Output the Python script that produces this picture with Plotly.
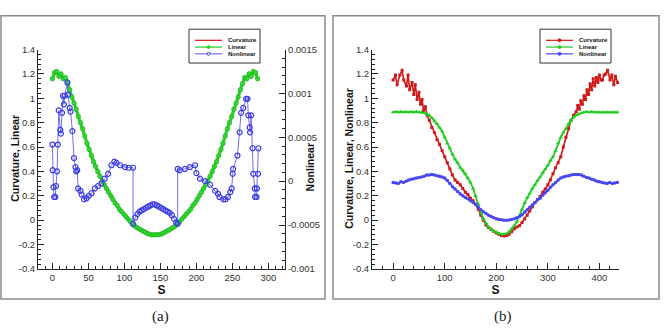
import plotly.graph_objects as go

# ---------------- data : panel (a) ----------------
s_a = list(range(0, 286, 3))
linear_a = [1.16, 1.21, 1.22, 1.18, 1.20, 1.16, 1.17, 1.12, 1.07, 1.01, 0.96, 0.91,
            0.85, 0.80, 0.75, 0.69, 0.63, 0.58, 0.53, 0.48, 0.44, 0.40, 0.36, 0.32,
            0.29, 0.26, 0.23, 0.20, 0.17, 0.14, 0.12, 0.09, 0.07, 0.05, 0.03, 0.01,
            -0.01, -0.03, -0.045, -0.06, -0.07, -0.08, -0.09, -0.10, -0.11, -0.115, -0.12, -0.12,
            -0.12, -0.12, -0.115, -0.11, -0.10, -0.09, -0.08, -0.07, -0.06, -0.045, -0.03, -0.01,
            0.01, 0.03, 0.05, 0.07, 0.09, 0.12, 0.14, 0.17, 0.20, 0.23, 0.26, 0.29,
            0.32, 0.36, 0.40, 0.44, 0.48, 0.53, 0.58, 0.63, 0.69, 0.75, 0.80, 0.85,
            0.91, 0.96, 1.01, 1.07, 1.12, 1.17, 1.16, 1.20, 1.18, 1.22, 1.21, 1.16]
# curvature in (a) coincides with the linear curve (hidden beneath it)
curv_a = linear_a[:]

s_nl_a = [0, 0.5, 1.5, 2.5, 4, 5, 6.5, 7.5, 8.8, 11, 11.8, 13.4, 14.8, 16, 17, 20.8, 21.7,
          24, 25.2, 27.8, 30, 32, 33, 34.5, 35.7, 39, 40.5, 44, 47.4, 50.6, 54.3, 58.9,
          63.5, 68, 72.7, 77.4, 82, 86, 89, 94, 100.8, 106, 112, 112,
          115, 118, 121, 124, 127, 130, 133, 136, 139, 142, 145, 148, 151, 154, 157, 160,
          163, 166, 169, 172, 174, 174,
          177, 184, 191, 198, 200, 205, 212, 219, 226, 230, 232, 237.4, 240.5, 243.8, 247,
          249, 250.4, 251, 257, 260, 262, 265, 269, 271, 272, 274, 274.5, 276, 278, 279,
          281, 281.5, 283.5, 284, 285.5, 286]
nonlinear_a = [0.000417, 0.000125, -0.000069, -0.000180, -0.000180, -0.000055, 0.000112,
               0.000417, 0.000806, 0.000584, 0.000542, 0.000778, 0.000973, 0.000875,
               0.000973, 0.001125, 0.000987, 0.000834, 0.000792, 0.000570, 0.000264,
               0.000160, 0.000112, 0.000125, -0.000083, -0.000111, -0.000152, -0.000208,
               -0.000194, -0.000166, -0.000138, -0.000083, -0.000055, -0.000027, 0.000028,
               0.000084, 0.000181, 0.000223, 0.000209, 0.000181, 0.000160, 0.000153,
               0.000153, -0.000486,
               -0.000416, -0.000375, -0.000347, -0.000333, -0.000319, -0.000305, -0.000291,
               -0.000277, -0.000263, -0.000263, -0.000277, -0.000291, -0.000305, -0.000319,
               -0.000333, -0.000347, -0.000361, -0.000388, -0.000430, -0.000472, -0.000486,
               0.000139,
               0.000125, 0.000139, 0.000160, 0.000181, 0.000091, 0.000028, 0.000000,
               -0.000041, -0.000111, -0.000145, -0.000180, -0.000208, -0.000208, -0.000180,
               -0.000125, -0.000083, 0.000084, 0.000139, 0.000292, 0.000556, 0.000778,
               0.000834, 0.000938, 0.000938, 0.000750, 0.000612, 0.000556, 0.000750,
               0.000375, 0.000084, -0.000083, -0.000180, -0.000180, -0.000083, 0.000084,
               0.000375]

# ---------------- data : panel (b) ----------------
s_curv_b = ([0, 4.5, 7.7, 13, 17.4, 20.6, 25.8, 29, 32, 36.8, 40, 43, 46.5, 50, 53, 56,
             59, 62.6, 66]
            + list(range(70, 351, 5))
            + [355, 358, 361, 364, 367, 370, 373, 376, 379, 382, 385, 388, 391, 394, 397,
               400, 403, 406, 409, 412, 416, 420.6, 424, 428, 431, 435.5])
curv_b = ([1.15, 1.19, 1.11, 1.19, 1.23, 1.15, 1.10, 1.19, 1.07, 1.13, 1.03, 1.11, 0.99,
           1.05, 0.95, 0.99, 0.90, 0.93, 0.86]
          + [0.82, 0.76, 0.72, 0.66, 0.62, 0.57, 0.52, 0.47, 0.42, 0.37, 0.33, 0.31,
             0.29, 0.26, 0.23, 0.21, 0.18, 0.16, 0.13, 0.09, 0.04, 0.00, -0.04, -0.06,
             -0.075, -0.09, -0.105, -0.115, -0.125, -0.13, -0.125, -0.115, -0.095, -0.07,
             -0.055, -0.045, -0.02, 0.01, 0.04, 0.075, 0.11, 0.145, 0.17, 0.195, 0.23,
             0.255, 0.29, 0.33, 0.38, 0.43, 0.47, 0.52, 0.60, 0.68, 0.75, 0.82, 0.86]
          + [0.89, 0.94, 0.91, 0.98, 0.95, 1.02, 0.99, 1.07, 1.03, 1.12, 1.07, 1.16, 1.10,
             1.17, 1.13, 1.19, 1.15, 1.15, 1.19, 1.20, 1.23, 1.15, 1.19, 1.11, 1.18, 1.13])
s_b = list(range(0, 436, 5))
linear_b = [0.885, 0.89, 0.885, 0.89, 0.885, 0.89, 0.885, 0.89, 0.885, 0.89, 0.885, 0.885,
            0.88, 0.87, 0.86, 0.84, 0.815, 0.79, 0.76, 0.73, 0.68, 0.63, 0.59, 0.54,
            0.50, 0.47, 0.43, 0.41, 0.38, 0.345, 0.31, 0.26, 0.20, 0.13, 0.06, 0.01,
            -0.025, -0.055, -0.075, -0.09, -0.10, -0.11, -0.115, -0.115, -0.11, -0.095,
            -0.07, -0.045, -0.01, 0.035, 0.09, 0.14, 0.185, 0.22, 0.26, 0.29, 0.325,
            0.355, 0.39, 0.42, 0.45, 0.49, 0.52, 0.57, 0.63, 0.68, 0.72, 0.75, 0.79,
            0.82, 0.845, 0.86, 0.87, 0.88, 0.885, 0.89, 0.885, 0.89, 0.885, 0.885, 0.885,
            0.885, 0.885, 0.885, 0.885, 0.885, 0.885, 0.885]
nonlinear_b = [0.31, 0.305, 0.30, 0.315, 0.31, 0.32, 0.33, 0.335, 0.34, 0.345, 0.35, 0.355,
               0.36, 0.37, 0.37, 0.375, 0.37, 0.365, 0.36, 0.355, 0.345, 0.325, 0.30, 0.275,
               0.255, 0.235, 0.215, 0.20, 0.185, 0.175, 0.16, 0.145, 0.13, 0.105, 0.085, 0.07,
               0.055, 0.04, 0.03, 0.02, 0.012, 0.006, 0.003, 0.0, 0.0, 0.002, 0.005, 0.012,
               0.02, 0.03, 0.045, 0.065, 0.085, 0.105, 0.125, 0.145, 0.165, 0.18, 0.205,
               0.225, 0.245, 0.27, 0.29, 0.31, 0.33, 0.345, 0.355, 0.36, 0.365, 0.37, 0.375,
               0.375, 0.375, 0.37, 0.36, 0.35, 0.345, 0.335, 0.33, 0.32, 0.315, 0.31, 0.305,
               0.30, 0.31, 0.30, 0.305, 0.31]

# ticks
y_ticks = [-0.4, -0.2, 0, 0.2, 0.4, 0.6, 0.8, 1.0, 1.2, 1.4]
y_labels = ["-0.4", "-0.2", "0", "0.2", "0.4", "0.6", "0.8", "1", "1.2", "1.4"]
y2_ticks = [-0.001, -0.0005, 0, 0.0005, 0.001, 0.0015]
y2_labels = ["-0.001", "-0.0005", "0", "0.0005", "0.001", "0.0015"]
xa_ticks = [0, 50, 100, 150, 200, 250, 300]
xb_ticks = [0, 100, 200, 300, 400]
series_names = ["Curvature", "Linear", "Nonlinear"]

# ---------------- styling ----------------
W, H = 672, 330
RED, GREEN, BLUE = "#d01818", "#22cc22", "#4848ee"
FONT = "Liberation Sans, Arial, sans-serif"
AX = "#222222"


def px(x):
    return x / W


def py(y):
    return 1 - y / H


def frange(a, b, step):
    n = int(round((b - a) / step))
    return [round(a + i * step, 10) for i in range(n + 1)]


fig = go.Figure()

# panel (a)
fig.add_trace(go.Scatter(x=s_a, y=curv_a, mode="lines", name="Curvature",
                         line=dict(color=RED, width=1.5), xaxis="x", yaxis="y"))
fig.add_trace(go.Scatter(x=s_a, y=linear_a, mode="lines+markers", name="Linear",
                         line=dict(color="#2ad42a", width=3.2),
                         marker=dict(symbol="circle", size=4.5, color="#30d830",
                                     line=dict(color="#1aa81a", width=0.6)),
                         xaxis="x", yaxis="y"))
fig.add_trace(go.Scatter(x=s_nl_a, y=nonlinear_a, mode="lines+markers", name="Nonlinear",
                         line=dict(color="#7070f0", width=1),
                         marker=dict(symbol="circle-open", size=5, color="#3c3ce6",
                                     line=dict(width=1.2)),
                         xaxis="x", yaxis="y2"))

# panel (b)
fig.add_trace(go.Scatter(x=s_curv_b, y=curv_b, mode="lines+markers", name="Curvature",
                         line=dict(color=RED, width=1.6),
                         marker=dict(symbol="square", size=3, color=RED),
                         xaxis="x2", yaxis="y3"))
fig.add_trace(go.Scatter(x=s_b, y=linear_b, mode="lines+markers", name="Linear",
                         line=dict(color=GREEN, width=1.8),
                         marker=dict(symbol="triangle-up", size=4, color=GREEN),
                         xaxis="x2", yaxis="y3"))
fig.add_trace(go.Scatter(x=s_b, y=nonlinear_b, mode="lines+markers", name="Nonlinear",
                         line=dict(color=BLUE, width=1.8),
                         marker=dict(symbol="circle", size=3.5, color=BLUE),
                         xaxis="x2", yaxis="y3"))

y_dom = [py(272), py(45)]
common = dict(showline=True, linecolor=AX, linewidth=1, ticks="inside", ticklen=6,
              tickcolor=AX, showgrid=False, zeroline=False,
              tickfont=dict(family=FONT, size=9.5, color="#333"))
title_font = dict(family=FONT, size=12, color="#111", weight="bold")
ytitle_font = dict(family=FONT, size=10.5, color="#111", weight="bold")

fig.update_layout(
    width=W, height=H, margin=dict(l=0, r=0, t=0, b=0),
    paper_bgcolor="white", plot_bgcolor="white", showlegend=False,
    xaxis=dict(domain=[px(38), px(285)], anchor="y", range=[-20, 323],
               tickmode="array", tickvals=xa_ticks, ticktext=[str(v) for v in xa_ticks],
               minor=dict(tickmode="array", tickvals=frange(-20, 320, 10), ticks="inside",
                          ticklen=3, tickcolor=AX),
               title=dict(text="S", font=title_font, standoff=0), **common),
    yaxis=dict(domain=y_dom, anchor="x", range=[-0.4, 1.4],
               tickmode="array", tickvals=y_ticks, ticktext=y_labels,
               minor=dict(tickmode="array", tickvals=frange(-0.4, 1.4, 0.04), ticks="inside",
                          ticklen=3, tickcolor=AX), **common),
    yaxis2=dict(domain=y_dom, anchor="x", overlaying="y", side="right",
                range=[-0.001, 0.0015],
                tickmode="array", tickvals=y2_ticks, ticktext=y2_labels,
                minor=dict(tickmode="array", tickvals=frange(-0.001, 0.0015, 0.0001),
                           ticks="inside", ticklen=3, tickcolor=AX), **common),
    xaxis2=dict(domain=[px(372), px(619)], anchor="y3", range=[-41, 438],
                tickmode="array", tickvals=xb_ticks, ticktext=[str(v) for v in xb_ticks],
                minor=dict(tickmode="array", tickvals=frange(-40, 420, 20), ticks="inside",
                           ticklen=3, tickcolor=AX),
                title=dict(text="S", font=title_font, standoff=0), **common),
    yaxis3=dict(domain=y_dom, anchor="x2", range=[-0.4, 1.4],
                tickmode="array", tickvals=y_ticks, ticktext=y_labels,
                minor=dict(tickmode="array", tickvals=frange(-0.4, 1.4, 0.04), ticks="inside",
                           ticklen=3, tickcolor=AX), **common),
)

shapes = []
annotations = []

# y-axis titles (placed beside the tick labels as in the original)
for text, tx, ty in [("Curvature, Linear", 15, 158), ("Nonlinear", 310, 167),
                     ("Curvature, Linear, Nonlinear", 349, 158)]:
    annotations.append(dict(text=text, xref="paper", yref="paper", x=px(tx), y=py(ty),
                            xanchor="center", yanchor="middle", textangle=-90,
                            showarrow=False, font=ytitle_font))

# panel frames
for x0, x1 in [(1, 325), (333, 659)]:
    shapes.append(dict(type="rect", xref="paper", yref="paper",
                       x0=px(x0), x1=px(x1), y0=py(303), y1=py(10),
                       line=dict(color="#8a8a8a", width=1.5)))

# captions
for label, cx in [("(a)", 160), ("(b)", 503)]:
    annotations.append(dict(text=label, xref="paper", yref="paper", x=px(cx), y=py(321),
                            xanchor="center", yanchor="middle", showarrow=False,
                            font=dict(family="Liberation Serif, DejaVu Serif, serif",
                                      size=15, color="#222")))

# legends (framed keys)
legend_specs = [
    (189, 260, 195, 222, [(RED, None, None), (GREEN, "fill", "#2fd42f"),
                          ("#7070f0", "open", "#3c3ce6")]),
    (540, 611, 546, 573, [(RED, "fill", RED), (GREEN, "fill", GREEN),
                          (BLUE, "fill", BLUE)]),
]
rows = [35.5, 42.5, 49.5]
for bx0, bx1, lx0, lx1, styles in legend_specs:
    shapes.append(dict(type="rect", xref="paper", yref="paper", x0=px(bx0), x1=px(bx1),
                       y0=py(59), y1=py(24), line=dict(color="#333", width=1),
                       fillcolor="white", layer="above"))
    for name, ry, (lc, mk, mc) in zip(series_names, rows, styles):
        shapes.append(dict(type="line", xref="paper", yref="paper", x0=px(lx0), x1=px(lx1),
                           y0=py(ry), y1=py(ry), line=dict(color=lc, width=1.2),
                           layer="above"))
        if mk:
            cx = (lx0 + lx1) / 2
            shapes.append(dict(type="circle", xref="paper", yref="paper",
                               x0=px(cx - 1.5), x1=px(cx + 1.5),
                               y0=py(ry + 1.5), y1=py(ry - 1.5),
                               line=dict(color=mc, width=1),
                               fillcolor=mc if mk == "fill" else "white", layer="above"))
        annotations.append(dict(text=name, xref="paper", yref="paper", x=px(lx1 + 4),
                                y=py(ry), xanchor="left", yanchor="middle",
                                showarrow=False,
                                font=dict(family=FONT, size=6, color="#111",
                                          weight="bold")))

fig.update_layout(shapes=shapes, annotations=annotations)

fig.write_html("out.html")
